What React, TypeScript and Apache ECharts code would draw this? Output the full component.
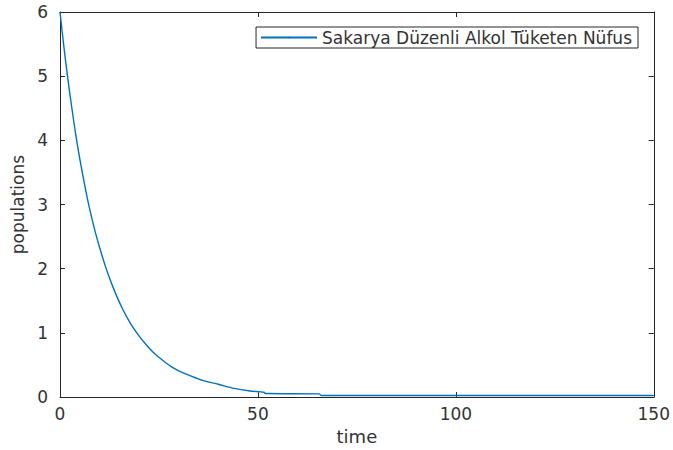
import React, { useEffect, useRef } from "react";
import * as echarts from "echarts";

const times = [0, 1, 2, 3, 4, 5, 6, 7, 8, 9, 10, 12, 14, 16, 18, 20, 22, 24, 26, 28, 30, 33, 36, 40, 44, 48, 51.5, 52, 65.5, 66, 150];
const values = [6.0, 5.45, 4.95, 4.5, 4.08, 3.71, 3.38, 3.07, 2.8, 2.55, 2.33, 1.94, 1.62, 1.35, 1.13, 0.95, 0.8, 0.67, 0.57, 0.48, 0.41, 0.33, 0.26, 0.2, 0.135, 0.095, 0.075, 0.055, 0.05, 0.025, 0.025];
const seriesName = "Sakarya Düzenli Alkol Tüketen Nüfus";
const xTicks = [0, 50, 100, 150];
const yTicks = [0, 1, 2, 3, 4, 5, 6];

const FONT = "DejaVu Sans";
const AXIS_COLOR = "#262626";
const LABEL_COLOR = "#333333";

export default function App() {
  const ref = useRef<HTMLDivElement>(null);
  useEffect(() => {
    if (!ref.current) return;
    const chart = echarts.init(ref.current, undefined, { renderer: "svg" });
    const data = times.map((t, i) => [t, values[i]]);
    const baseX = {
      type: "value" as const,
      min: xTicks[0],
      max: xTicks[xTicks.length - 1],
      interval: 50,
      splitLine: { show: false },
      axisLine: { show: true, onZero: false, lineStyle: { color: AXIS_COLOR, width: 1 } },
      axisTick: { show: true, inside: true, length: 5, lineStyle: { color: AXIS_COLOR } },
    };
    const baseY = {
      type: "value" as const,
      min: yTicks[0],
      max: yTicks[yTicks.length - 1],
      interval: 1,
      splitLine: { show: false },
      axisLine: { show: true, onZero: false, lineStyle: { color: AXIS_COLOR, width: 1 } },
      axisTick: { show: true, inside: true, length: 5, lineStyle: { color: AXIS_COLOR } },
    };
    chart.setOption({
      animation: false,
      backgroundColor: "#ffffff",
      grid: { left: 60, right: 18, top: 12, bottom: 51, containLabel: false },
      legend: {
        right: 35,
        top: 27,
        data: [seriesName],
        borderColor: AXIS_COLOR,
        borderWidth: 1,
        borderRadius: 0,
        padding: [2, 6, 2, 4],
        itemWidth: 56,
        itemHeight: 2,
        itemGap: 5,
        backgroundColor: "#ffffff",
        textStyle: { fontFamily: FONT, fontSize: 17, color: LABEL_COLOR },
      },
      xAxis: [
        {
          ...baseX,
          position: "bottom",
          name: "time",
          nameLocation: "middle",
          nameGap: 29,
          nameTextStyle: { fontFamily: FONT, fontSize: 18, color: LABEL_COLOR },
          axisLabel: { show: true, margin: 8, fontFamily: FONT, fontSize: 17, color: LABEL_COLOR },
        },
        { ...baseX, position: "top", axisLabel: { show: false } },
      ],
      yAxis: [
        {
          ...baseY,
          position: "left",
          name: "populations",
          nameLocation: "middle",
          nameGap: 33,
          nameTextStyle: { fontFamily: FONT, fontSize: 17, color: LABEL_COLOR },
          axisLabel: { show: true, margin: 12, fontFamily: FONT, fontSize: 17, color: LABEL_COLOR },
        },
        { ...baseY, position: "right", axisLabel: { show: false } },
      ],
      series: [
        {
          name: seriesName,
          type: "line",
          data,
          symbol: "none",
          smooth: 0.3,
          xAxisIndex: 0,
          yAxisIndex: 0,
          lineStyle: { color: "#0072BD", width: 1.4 },
          itemStyle: { color: "#0072BD" },
        },
      ],
    });
    return () => chart.dispose();
  }, []);
  return (
    <div
      ref={ref}
      style={{ position: "fixed", left: 0, top: 0, width: 673, height: 450 }}
    />
  );
}
